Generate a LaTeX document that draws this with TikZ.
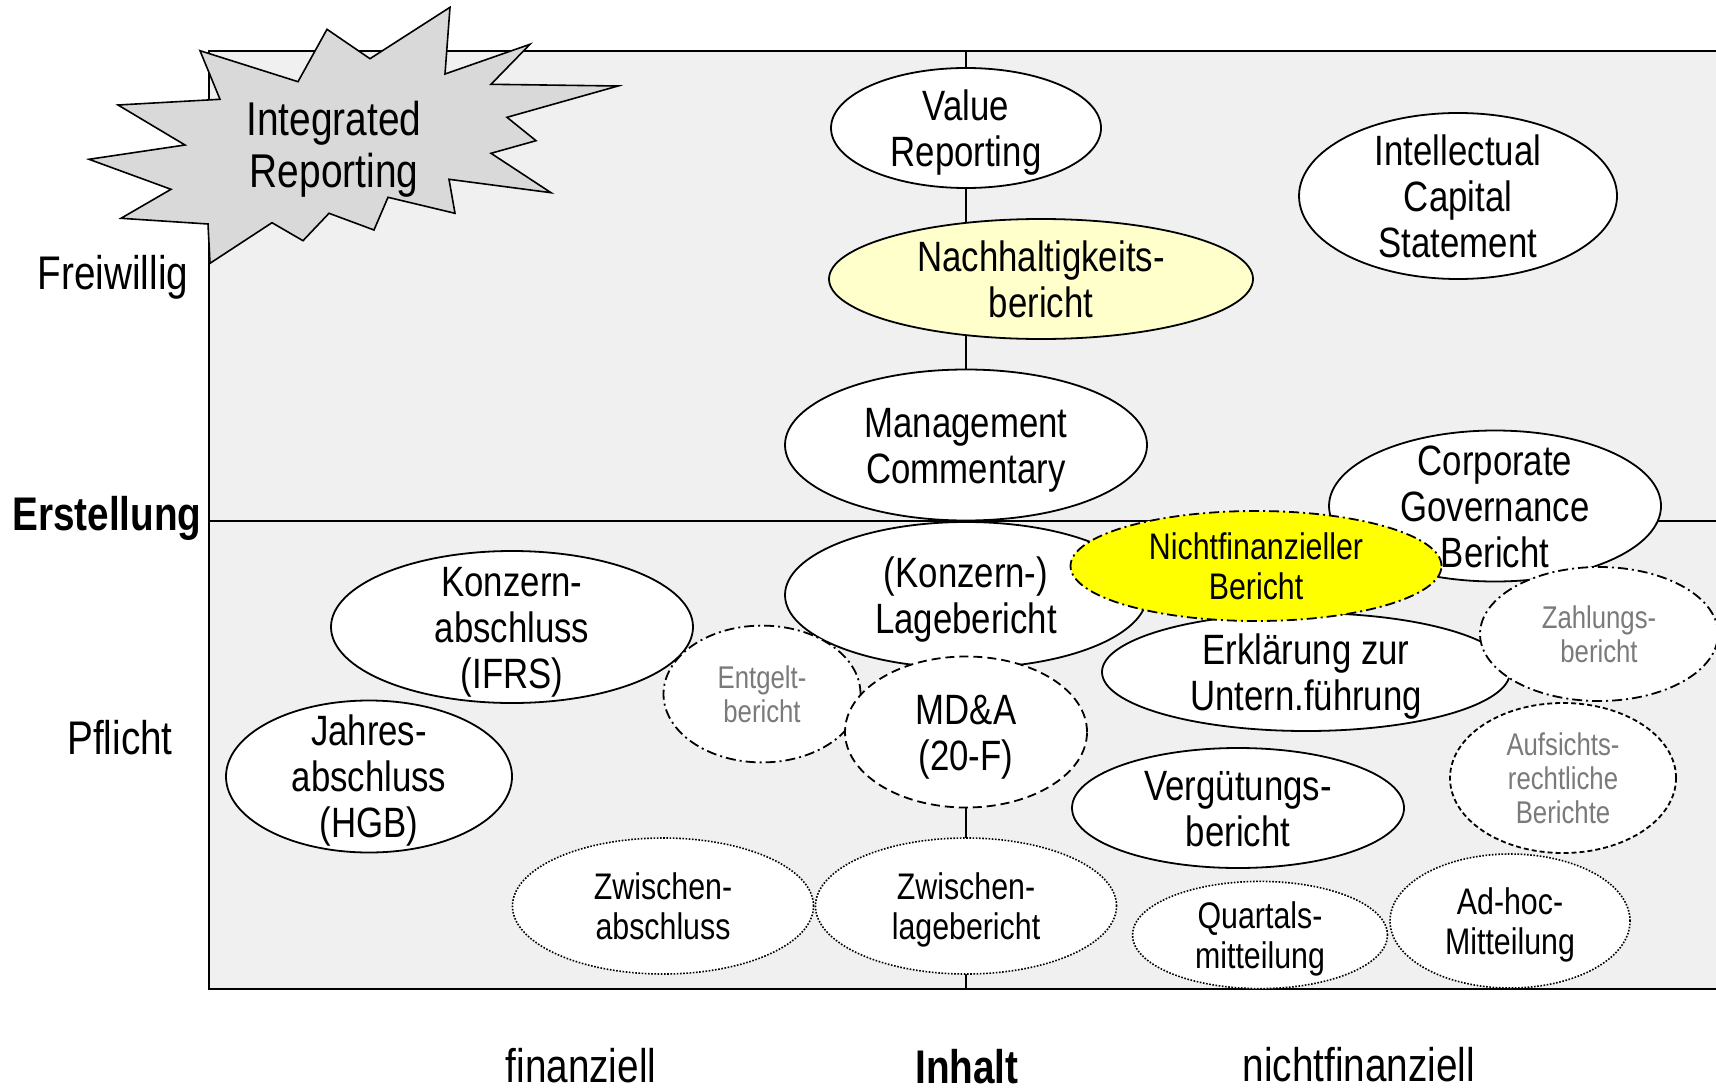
\documentclass[tikz,border=0pt]{standalone}
\usepackage{fontspec}
\setmainfont{Liberation Sans}[FakeStretch=0.82]
\usetikzlibrary{shapes.geometric}
\definecolor{boxgray}{HTML}{F0F0F0}
\definecolor{stargray}{HTML}{D9D9D9}
\definecolor{lightyellow}{HTML}{FFFFCC}
\definecolor{hiyellow}{HTML}{FFFF00}
\definecolor{graytext}{HTML}{7A7A7A}
\tikzset{
  ell/.style={ellipse, draw, fill=white, line width=0.9pt, inner sep=0pt, outer sep=0pt},
  dashdotl/.style={dash pattern=on 5pt off 2pt on 1pt off 2pt},
  dashl/.style={dash pattern=on 4.5pt off 2.5pt},
  finedashl/.style={dash pattern=on 2.5pt off 1.5pt},
  dotl/.style={line width=0.8pt, dash pattern=on 0.8pt off 0.8pt},
  txtbase/.style={align=center, inner sep=0pt, text depth=0pt},
  bigtwo/.style={txtbase, font=\fontsize{21.2}{23}\selectfont, text height=38.3pt},
  bigthree/.style={txtbase, font=\fontsize{21.2}{23}\selectfont, text height=61.3pt},
  midtwo/.style={txtbase, font=\fontsize{18.5}{20.2}\selectfont, text height=33.5pt},
  smalltwo/.style={txtbase, font=\fontsize{15.7}{17}\selectfont, text=graytext, text height=28.3pt},
  smallthree/.style={txtbase, font=\fontsize{15.7}{17}\selectfont, text=graytext, text height=45.3pt},
  axlbl/.style={font=\fontsize{23.6}{26}\selectfont, inner sep=0pt, text height=17pt, text depth=0pt},
  frame/.style={line width=0.9pt},
}
\begin{document}
\begin{tikzpicture}[x=0.5pt, y=-0.5pt]
\useasboundingbox (0,0) rectangle (1716,1091);
\clip (0,0) rectangle (1716,1091);
% frame
\fill[boxgray] (209,51) rectangle (1730,989);
\draw[frame] (1730,51) -- (209,51) -- (209,989) -- (1730,989);
\coordinate (midL) at (209,521);
\coordinate (midR) at (1730,521);
\coordinate (axtop) at (966,51);
\coordinate (axbot) at (966,989);
\draw[frame] (midL) -- (midR);
\draw[frame] (axtop) -- (axbot);
% starburst
\draw[fill=stargray, line width=0.8pt] (200,50.7) -- (298,81.7) -- (327,29.3) -- (370,58.7) -- (450,7.3) -- (445,74) -- (530,44.3) -- (491,84.3) -- (618,86) -- (507,117.3) -- (536,140.7) -- (491,153.3) -- (551,192.7) -- (449,179.3) -- (455,213.3) -- (388,197.3) -- (374,230) -- (329,213.3) -- (303,240.7) -- (272,222.7) -- (210,263.3) -- (208,224) -- (121,218.3) -- (171,189.3) -- (89,159.3) -- (185,145) -- (118,105) -- (220,99.3) -- cycle;
\node[txtbase, font=\fontsize{23.7}{26}\selectfont, text height=43.1pt] (ir) at (334,144) {Integrated\\Reporting};
% ellipses
\node[ell, minimum width=135pt, minimum height=60pt] (vr) at (966,128) {};
\node[ell, fill=lightyellow, minimum width=212pt, minimum height=60pt] (nh) at (1041,279) {};
\node[ell, minimum width=159pt, minimum height=83pt] (ic) at (1458,196) {};
\node[ell, minimum width=181pt, minimum height=75.5pt] (mc) at (966,445) {};
\node[ell, minimum width=181pt, minimum height=73pt] (lb) at (966,595) {};
\node[ell, minimum width=166pt, minimum height=75.5pt] (cg) at (1495,506) {};
\node[ell, minimum width=181pt, minimum height=76pt] (ka) at (512,627) {};
\node[ell, minimum width=143pt, minimum height=76pt] (ja) at (369,776.5) {};
\node[ell, minimum width=204pt, minimum height=59pt] (eu) at (1306,672) {};
\node[ell, dashdotl, minimum width=98.5pt, minimum height=68.4pt] (eb) at (762,694) {};
\node[ell, dashl, minimum width=121pt, minimum height=75.5pt] (md) at (966,732) {};
\node[ell, dashdotl, fill=hiyellow, minimum width=185.5pt, minimum height=55pt] (nf) at (1256,566) {};
\node[ell, dashdotl, minimum width=119pt, minimum height=67pt] (zb) at (1599,634) {};
\node[ell, minimum width=166pt, minimum height=60pt] (vg) at (1238,808) {};
\node[ell, finedashl, minimum width=113pt, minimum height=75pt] (ab) at (1563,778) {};
\node[ell, dotl, minimum width=150.5pt, minimum height=68pt] (za) at (663,906) {};
\node[ell, dotl, minimum width=150.5pt, minimum height=68pt] (zl) at (966,906) {};
\node[ell, dotl, minimum width=127.5pt, minimum height=53.6pt] (qm) at (1260,935) {};
\node[ell, dotl, minimum width=120pt, minimum height=67pt] (ah) at (1510,921) {};
% texts
\node[bigtwo] (vr-t) at (vr) {Value\\Reporting};
\node[bigtwo] (nh-t) at (nh) {Nachhaltigkeits-\\bericht};
\node[bigthree] (ic-t) at (ic) {Intellectual\\Capital\\Statement};
\node[bigtwo] (mc-t) at (mc) {Management\\Commentary};
\node[bigtwo] (lb-t) at (lb) {(Konzern-)\\Lagebericht};
\node[bigthree] (cg-t) at (cg) {Corporate\\Governance\\Bericht};
\node[bigthree] (ka-t) at (ka) {Konzern-\\abschluss\\(IFRS)};
\node[bigthree] (ja-t) at (ja) {Jahres-\\abschluss\\(HGB)};
\node[bigtwo] (eu-t) at (eu) {Erklärung zur\\Untern.führung};
\node[smalltwo] (eb-t) at (eb) {Entgelt-\\bericht};
\node[bigtwo] (md-t) at (md) {MD\&A\\(20-F)};
\node[midtwo] (nf-t) at (nf) {Nichtfinanzieller\\Bericht};
\node[smalltwo] (zb-t) at (zb) {Zahlungs-\\bericht};
\node[bigtwo] (vg-t) at (vg) {Vergütungs-\\bericht};
\node[smallthree] (ab-t) at (ab) {Aufsichts-\\rechtliche\\Berichte};
\node[midtwo] (za-t) at (za) {Zwischen-\\abschluss};
\node[midtwo] (zl-t) at (zl) {Zwischen-\\lagebericht};
\node[midtwo] (qm-t) at (qm) {Quartals-\\mitteilung};
\node[midtwo] (ah-t) at (ah) {Ad-hoc-\\Mitteilung};
% axis labels
\node[axlbl] (fw) at (113,272) {Freiwillig};
\node[axlbl, font=\fontsize{23.6}{26}\selectfont\bfseries] (er) at (107,513) {Erstellung};
\node[axlbl] (pf) at (120,737) {Pflicht};
\node[axlbl] (fi) at (581,1065) {finanziell};
\node[axlbl, font=\fontsize{23.6}{26}\selectfont\bfseries] (ih) at (967,1066) {Inhalt};
\node[axlbl] (nfi) at (1359,1064) {nichtfinanziell};
\end{tikzpicture}
\end{document}
